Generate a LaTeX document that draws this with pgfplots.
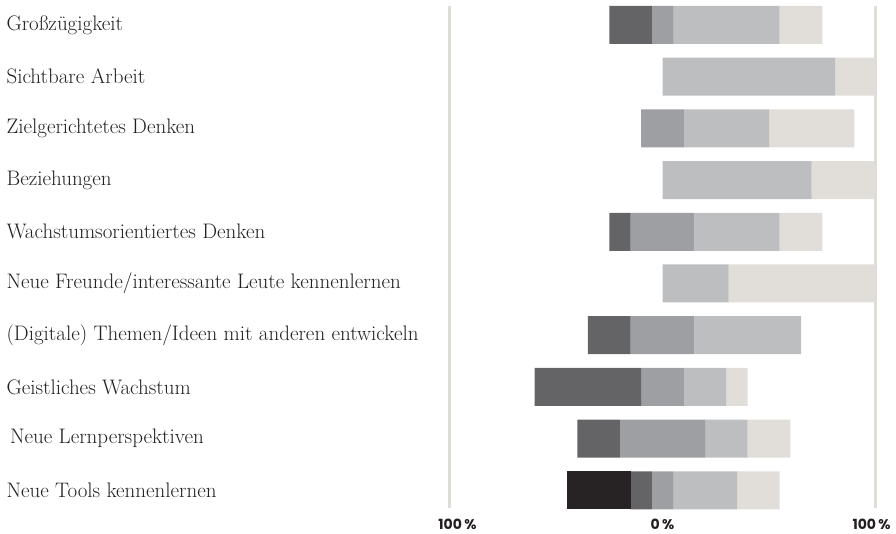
\documentclass[border=0pt]{standalone}
\usepackage{fontspec}
\usepackage{pgfplots}
\usepackage{pgfplotstable}
\pgfplotsset{compat=1.18}
\newfontfamily\tickfont{Poppins}
\definecolor{cblack}{HTML}{272324}
\definecolor{cdark}{HTML}{646466}
\definecolor{cmid}{HTML}{9E9FA2}
\definecolor{clight}{HTML}{BDBEC0}
\definecolor{cbeige}{HTML}{E1DDD9}
\definecolor{cline}{HTML}{E0DCD8}
\definecolor{ctext}{HTML}{231F20}
\pgfplotstableread{
y off b d m l e
9 -25 0 20 10 50 20
8 0 0 0 0 81 19
7 -10 0 0 20 40 40
6 0 0 0 0 70 30
5 -25 0 10 30 40 20
4 0 0 0 0 31 69
3 -35 0 20 30 50 0
2 -60 0 50 20 20 10
1 -40 0 20 40 20 20
0 -45 30 10 10 30 20
}\data
\begin{document}
\begin{tikzpicture}
\begin{axis}[
  scale only axis, width=896pt, height=533pt,
  xmin=-311, xmax=109.6, ymin=-0.826, ymax=9.4836,
  xbar stacked, stack negative=on previous, bar width=0.735,
  axis line style={draw=none}, major tick length=0,
  xtick={-100,0,100}, xticklabels={\hspace*{16pt}100\,\%,0\,\%,100\,\%\hspace*{8pt}},
  xticklabel style={font=\tickfont\bfseries\fontsize{14}{14}\selectfont, anchor=base, yshift=3.5pt, text=ctext},
  ytick={0,...,9},
  yticklabels={Neue Tools kennenlernen,\hspace*{3.5pt}Neue Lernperspektiven,Geistliches Wachstum,(Digitale) Themen/Ideen mit anderen entwickeln,Neue Freunde/interessante Leute kennenlernen,Wachstumsorientiertes Denken,Beziehungen,Zielgerichtetes Denken,Sichtbare Arbeit,Großzügigkeit},
  yticklabel style={anchor=west, font=\fontsize{21}{21}\selectfont, text=ctext, xshift=3pt},
  clip=false,
]
\draw[cline, line width=3pt] (axis cs:-100,9.3675) -- (axis cs:-100,-0.342);
\draw[cline, line width=3pt] (axis cs:100,9.3675) -- (axis cs:100,-0.342);
\addplot[draw=none, fill=none] table[x=off, y=y]{\data};
\addplot[draw=none, fill=cblack] table[x=b, y=y]{\data};
\addplot[draw=none, fill=cdark] table[x=d, y=y]{\data};
\addplot[draw=none, fill=cmid] table[x=m, y=y]{\data};
\addplot[draw=none, fill=clight] table[x=l, y=y]{\data};
\addplot[draw=none, fill=cbeige] table[x=e, y=y]{\data};
\end{axis}
\pgfresetboundingbox
\path (current axis.south west) rectangle (current axis.north east);
\end{tikzpicture}
\end{document}
